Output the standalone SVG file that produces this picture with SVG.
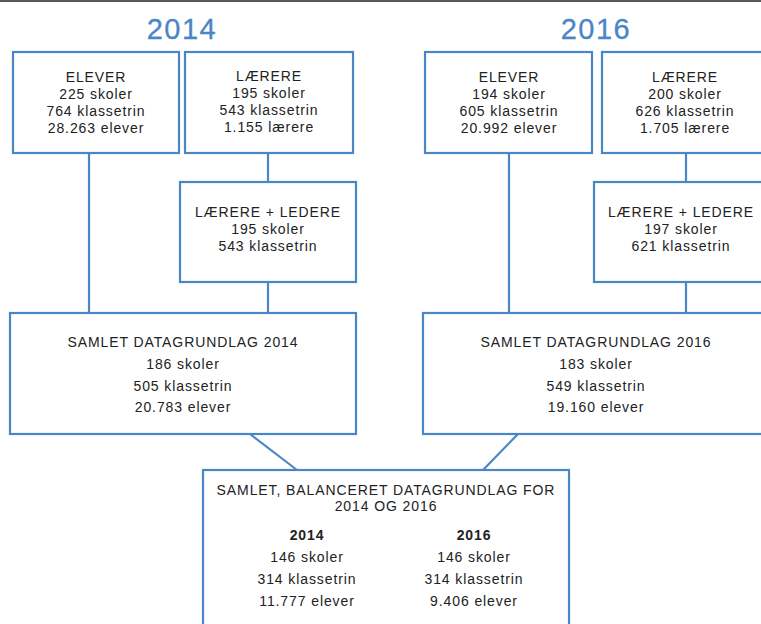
<svg xmlns="http://www.w3.org/2000/svg" width="761" height="624" viewBox="0 0 761 624">
<style>
.box{fill:#fff;stroke:#4a86c6;stroke-width:2.2}
.ln{stroke:#4a86c6;stroke-width:2.2;fill:none}
.t{font-family:"Liberation Sans",Arial,sans-serif;font-size:14px;fill:#222;text-anchor:middle;letter-spacing:0.9px}
.b{font-weight:bold}
.title{font-family:"Liberation Sans",Arial,sans-serif;font-size:29px;fill:#4a86c6;stroke:#4a86c6;stroke-width:0.3px;text-anchor:middle;letter-spacing:1.5px}
</style>
<rect x="0" y="0" width="761" height="624" fill="#fff"/>
<rect x="0" y="0" width="761" height="2" fill="#595959"/>
<text class="title" x="182" y="39">2014</text>
<text class="title" x="596" y="39">2016</text>
<g id="connectors">
<line class="ln" x1="89" y1="153" x2="89" y2="313"/>
<line class="ln" x1="268" y1="153" x2="268" y2="182"/>
<line class="ln" x1="268" y1="282" x2="268" y2="313"/>
<line class="ln" x1="509" y1="153" x2="509" y2="313"/>
<line class="ln" x1="686" y1="153" x2="686" y2="182"/>
<line class="ln" x1="686" y1="282" x2="686" y2="313"/>
<line class="ln" x1="250" y1="434" x2="297" y2="470"/>
<line class="ln" x1="518" y1="434" x2="483" y2="470"/>
</g>
<g id="elever2014">
<rect class="box" x="13" y="52" width="166" height="101"/>
<text class="t" x="96" y="82">ELEVER</text>
<text class="t" x="96" y="99">225 skoler</text>
<text class="t" x="96" y="116">764 klassetrin</text>
<text class="t" x="96" y="133">28.263 elever</text>
</g>
<g id="laerere2014">
<rect class="box" x="185" y="52" width="168" height="101"/>
<text class="t" x="269" y="81">LÆRERE</text>
<text class="t" x="269" y="98">195 skoler</text>
<text class="t" x="269" y="115">543 klassetrin</text>
<text class="t" x="269" y="132">1.155 lærere</text>
</g>
<g id="ledere2014">
<rect class="box" x="180" y="182" width="176" height="100"/>
<text class="t" x="268" y="217">LÆRERE + LEDERE</text>
<text class="t" x="268" y="234">195 skoler</text>
<text class="t" x="268" y="251">543 klassetrin</text>
</g>
<g id="samlet2014">
<rect class="box" x="10" y="313" width="346" height="121"/>
<text class="t" x="183" y="347">SAMLET DATAGRUNDLAG 2014</text>
<text class="t" x="183" y="369">186 skoler</text>
<text class="t" x="183" y="391">505 klassetrin</text>
<text class="t" x="183" y="412">20.783 elever</text>
</g>
<g id="elever2016">
<rect class="box" x="425" y="52" width="167" height="101"/>
<text class="t" x="509" y="82">ELEVER</text>
<text class="t" x="509" y="99">194 skoler</text>
<text class="t" x="509" y="116">605 klassetrin</text>
<text class="t" x="509" y="133">20.992 elever</text>
</g>
<g id="laerere2016">
<rect class="box" x="602" y="52" width="200" height="101"/>
<text class="t" x="685" y="82">LÆRERE</text>
<text class="t" x="685" y="99">200 skoler</text>
<text class="t" x="685" y="116">626 klassetrin</text>
<text class="t" x="685" y="133">1.705 lærere</text>
</g>
<g id="ledere2016">
<rect class="box" x="594" y="182" width="210" height="100"/>
<text class="t" x="681" y="217">LÆRERE + LEDERE</text>
<text class="t" x="681" y="234">197 skoler</text>
<text class="t" x="681" y="251">621 klassetrin</text>
</g>
<g id="samlet2016">
<rect class="box" x="423" y="313" width="380" height="121"/>
<text class="t" x="596" y="347">SAMLET DATAGRUNDLAG 2016</text>
<text class="t" x="596" y="369">183 skoler</text>
<text class="t" x="596" y="391">549 klassetrin</text>
<text class="t" x="596" y="412">19.160 elever</text>
</g>
<g id="balanceret">
<rect class="box" x="203" y="470" width="366" height="180"/>
<text class="t" x="386" y="495">SAMLET, BALANCERET DATAGRUNDLAG FOR</text>
<text class="t" x="386" y="511">2014 OG 2016</text>
<text class="t b" x="307" y="540">2014</text>
<text class="t b" x="474" y="540">2016</text>
<text class="t" x="307" y="562">146 skoler</text>
<text class="t" x="307" y="584">314 klassetrin</text>
<text class="t" x="307" y="606">11.777 elever</text>
<text class="t" x="474" y="562">146 skoler</text>
<text class="t" x="474" y="584">314 klassetrin</text>
<text class="t" x="474" y="606">9.406 elever</text>
</g>
</svg>
